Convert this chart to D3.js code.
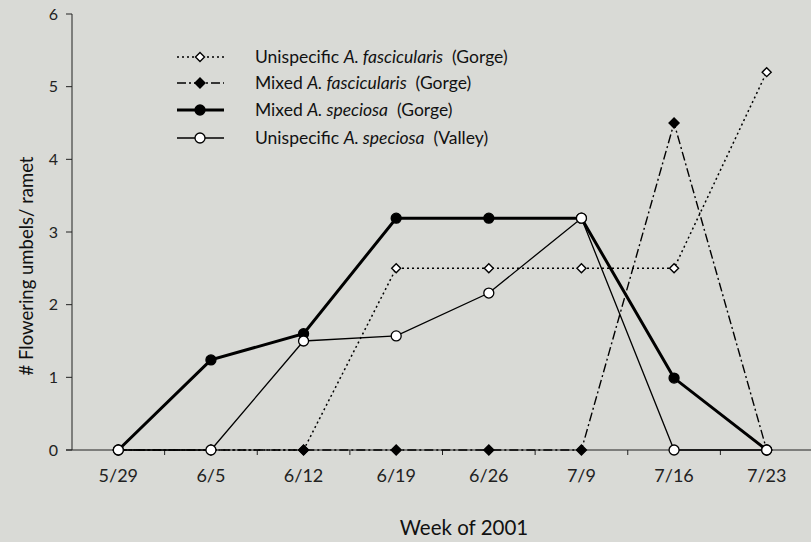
<!DOCTYPE html>
<html>
<head>
<meta charset="utf-8">
<script src="https://cdn.jsdelivr.net/npm/d3@7"></script>
<style>
  body { margin: 0; background: #d9dad6; }
  svg { display: block; font-family: "Lato", "Open Sans", sans-serif; }
</style>
</head>
<body>
<div id="chart"></div>
<script>
// data
const weeks = ["5/29", "6/5", "6/12", "6/19", "6/26", "7/9", "7/16", "7/23"];
const unispFasc = [0, 0, 0, 2.5, 2.5, 2.5, 2.5, 5.2];
const mixedFasc = [0, 0, 0, 0, 0, 0, 4.5, 0];
const mixedSpec = [0, 1.24, 1.6, 3.19, 3.19, 3.19, 0.99, 0];
const unispSpec = [0, 0, 1.5, 1.57, 2.16, 3.19, 0, 0];
const yTicks = [0, 1, 2, 3, 4, 5, 6];

// series style, drawn in this order
const series = [
  { pre: "Unispecific ", sp: "A. fascicularis", site: "  (Gorge)", values: unispFasc,
    dash: "2,3", width: 1.5, marker: "diamond", fill: "#fff" },
  { pre: "Mixed ", sp: "A. fascicularis", site: "  (Gorge)", values: mixedFasc,
    dash: "9,3,2,3", width: 1.4, marker: "diamond", fill: "#000" },
  { pre: "Mixed ", sp: "A. speciosa", site: "  (Gorge)", values: mixedSpec,
    dash: null, width: 3, marker: "circle", fill: "#000" },
  { pre: "Unispecific ", sp: "A. speciosa", site: "  (Valley)", values: unispSpec,
    dash: null, width: 1.3, marker: "circle", fill: "#fff" }
];

const W = 811, H = 542;
const svg = d3.select("#chart").append("svg")
    .attr("width", W).attr("height", H);

svg.append("rect").attr("width", W).attr("height", H).attr("fill", "#d9dad6");

var x = d3.scaleBand().domain(weeks).range([72, 813]);
var y = d3.scaleLinear().domain([0, 6]).range([450, 14]);

// y axis
svg.append("line").attr("x1", 72).attr("x2", 72).attr("y1", y(6)).attr("y2", y(0))
    .attr("stroke", "#222").attr("stroke-width", 1);
svg.selectAll(".ytick").data(yTicks).join("line")
    .attr("x1", 66).attr("x2", 72)
    .attr("y1", d => y(d)).attr("y2", d => y(d))
    .attr("stroke", "#222");
svg.selectAll(".ylab").data(yTicks).join("text")
    .attr("x", 58).attr("y", d => y(d)).attr("dy", "0.35em")
    .attr("text-anchor", "end").attr("font-size", 16).attr("fill", "#222")
    .text(d => d);

// x axis
svg.append("line").attr("x1", 66).attr("x2", W).attr("y1", y(0)).attr("y2", y(0))
    .attr("stroke", "#222").attr("stroke-width", 1);
svg.selectAll(".xtick").data(weeks.slice(1)).join("line")
    .attr("x1", d => x(d)).attr("x2", d => x(d))
    .attr("y1", y(0)).attr("y2", y(0) + 5)
    .attr("stroke", "#222");
svg.selectAll(".xlab").data(weeks).join("text")
    .attr("x", d => x(d) + x.bandwidth() / 2).attr("y", 476).attr("dy", "0.35em")
    .attr("text-anchor", "middle").attr("font-size", 18).attr("fill", "#222")
    .text(d => d);

// axis titles
svg.append("text")
    .attr("x", 464).attr("y", 535)
    .attr("text-anchor", "middle").attr("font-size", 20.5).attr("fill", "#111")
    .text("Week of 2001");
svg.append("text")
    .attr("transform", "translate(33,266) rotate(-90)")
    .attr("text-anchor", "middle").attr("font-size", 18.5).attr("fill", "#111")
    .text("# Flowering umbels/ ramet");

// marker helper
function drawMarker(g, cx, cy, s) {
  if (s.marker === "circle") {
    g.append("circle").attr("cx", cx).attr("cy", cy).attr("r", 5)
      .attr("fill", s.fill).attr("stroke", "#000").attr("stroke-width", 1.3);
  } else {
    const r = s.fill === "#000" ? 5 : 4.5;
    g.append("path")
      .attr("d", `M${cx},${cy - r}L${cx + r},${cy}L${cx},${cy + r}L${cx - r},${cy}Z`)
      .attr("fill", s.fill).attr("stroke", "#000").attr("stroke-width", 1.4);
  }
}

const line = d3.line()
    .x((d, i) => x(weeks[i]) + x.bandwidth() / 2)
    .y(d => y(d));

series.forEach(function(s) {
  const g = svg.append("g");
  g.append("path").datum(s.values)
    .attr("d", line)
    .attr("fill", "none").attr("stroke", "#000")
    .attr("stroke-width", s.width)
    .attr("stroke-dasharray", s.dash);
  s.values.forEach(function(v, i) {
    drawMarker(g, x(weeks[i]) + x.bandwidth() / 2, y(v), s);
  });
});

// legend
const legY = [57, 83, 110, 138];
series.forEach(function(s, i) {
  const g = svg.append("g");
  g.append("line").attr("x1", 177).attr("x2", 224)
    .attr("y1", legY[i]).attr("y2", legY[i])
    .attr("stroke", "#000").attr("stroke-width", s.width)
    .attr("stroke-dasharray", s.dash);
  drawMarker(g, 200, legY[i], s);
  const t = g.append("text").attr("x", 255).attr("y", legY[i]).attr("dy", "0.35em")
    .attr("font-size", 17.5).attr("fill", "#111").attr("xml:space", "preserve")
    .style("white-space", "pre");
  t.append("tspan").text(s.pre);
  t.append("tspan").attr("font-style", "italic").text(s.sp);
  t.append("tspan").text(s.site);
});
</script>
</body>
</html>
